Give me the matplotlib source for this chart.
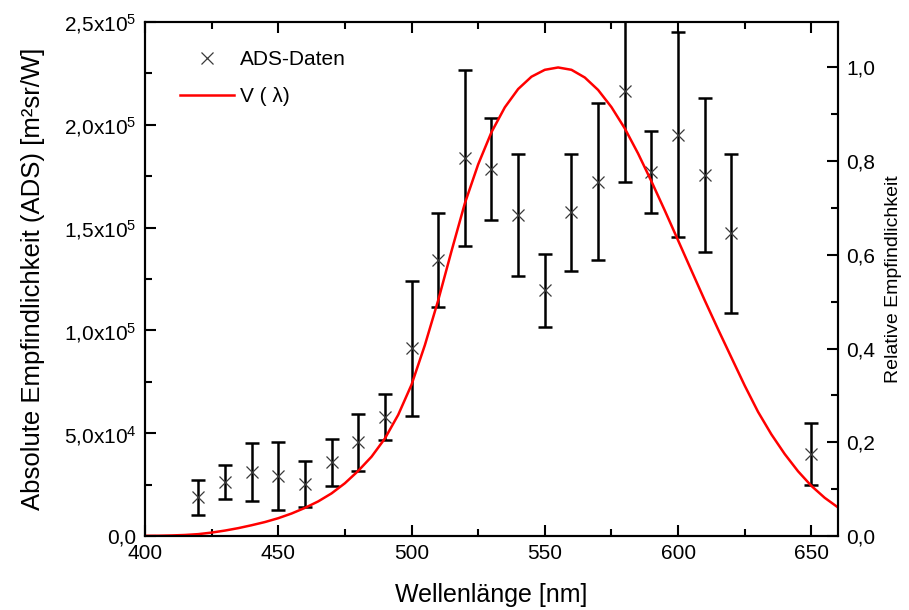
import numpy as np
import matplotlib.pyplot as plt
from matplotlib.ticker import MultipleLocator

plt.rcParams['font.family'] = ['Liberation Sans', 'DejaVu Sans']
plt.rcParams['mathtext.fontset'] = 'custom'
plt.rcParams['mathtext.rm'] = 'Liberation Sans'
plt.rcParams['mathtext.it'] = 'Liberation Sans'

# measured ADS data (wavelength in nm, value in m^2 sr/W, symmetric error)
wl = [420, 430, 440, 450, 460, 470, 480, 490, 500, 510, 520,
      530, 540, 550, 560, 570, 580, 590, 600, 610, 620, 650]
ads = [1.88e4, 2.61e4, 3.10e4, 2.93e4, 2.53e4, 3.58e4, 4.56e4, 5.80e4, 9.13e4, 1.342e5, 1.837e5,
       1.785e5, 1.561e5, 1.196e5, 1.574e5, 1.723e5, 2.166e5, 1.769e5, 1.952e5, 1.756e5, 1.472e5, 3.99e4]
ads_err = [0.86e4, 0.83e4, 1.41e4, 1.65e4, 1.11e4, 1.14e4, 1.39e4, 1.13e4, 3.28e4, 2.27e4, 4.28e4,
           2.47e4, 2.96e4, 1.78e4, 2.85e4, 3.81e4, 4.46e4, 2.00e4, 4.98e4, 3.75e4, 3.85e4, 1.51e4]

# V(lambda) curve, read at 5 nm steps
v_wl = [400, 405, 410, 415, 420, 425, 430, 435, 440, 445, 450, 455, 460, 465, 470, 475,
        480, 485, 490, 495, 500, 505, 510, 515, 520, 525, 530, 535, 540, 545, 550, 555,
        560, 565, 570, 575, 580, 585, 590, 595, 600, 605, 610, 615, 620, 625, 630, 635,
        640, 645, 650, 655, 660]
v_rel = [0.0004, 0.0006, 0.0012, 0.0022, 0.004, 0.0073, 0.0116, 0.0168, 0.023, 0.0298,
         0.038, 0.048, 0.060, 0.0739, 0.091, 0.1126, 0.139, 0.1693, 0.208, 0.2586, 0.323,
         0.4073, 0.503, 0.6082, 0.710, 0.7932, 0.862, 0.9149, 0.954, 0.9803, 0.995, 1.0,
         0.995, 0.9786, 0.952, 0.9154, 0.870, 0.8163, 0.757, 0.6949, 0.631, 0.5668, 0.503,
         0.4412, 0.381, 0.321, 0.265, 0.217, 0.175, 0.1382, 0.107, 0.0816, 0.061]

x_ticks = [400, 450, 500, 550, 600, 650]
y_ticks = [0, 5e4, 1e5, 1.5e5, 2e5, 2.5e5]
y_labels = ['0,0', '5,0x10$^4$', '1,0x10$^5$', '1,5x10$^5$', '2,0x10$^5$', '2,5x10$^5$']
r_ticks = [0, 0.2, 0.4, 0.6, 0.8, 1.0]
r_labels = ['0,0', '0,2', '0,4', '0,6', '0,8', '1,0']

fig = plt.figure(figsize=(9.09, 6.10), dpi=100)
ax = fig.add_axes([0.1595, 0.1213, 0.7624, 0.8426])
ax2 = ax.twinx()

ax.errorbar(wl, ads, yerr=ads_err, fmt='none', ecolor='black',
            elinewidth=1.8, capsize=5, capthick=1.8)
h1, = ax.plot(wl, ads, 'x', color='#3a3a3a', ms=9, mew=0.9, label='ADS-Daten')
h2, = ax2.plot(v_wl, v_rel, color='red', lw=1.8, solid_joinstyle='round', label='V ( λ)')

ax.set_xlim(400, 660)
ax.set_ylim(0, 2.5e5)
ax2.set_ylim(0, 1.097)

ax.set_xticks(x_ticks)
ax.set_xticklabels([str(t) for t in x_ticks])
ax.xaxis.set_minor_locator(MultipleLocator(25))
ax.set_yticks(y_ticks)
ax.set_yticklabels(y_labels)
ax.yaxis.set_minor_locator(MultipleLocator(2.5e4))
ax2.set_yticks(r_ticks)
ax2.set_yticklabels(r_labels)
ax2.yaxis.set_minor_locator(MultipleLocator(0.1))

ax.tick_params(which='both', direction='in', top=True, right=False, width=1.5, labelsize=15, pad=6)
ax.tick_params(which='major', length=8)
ax.tick_params(which='minor', length=5)
ax2.tick_params(which='both', direction='in', width=1.5, labelsize=15, pad=6)
ax2.tick_params(which='major', length=8)
ax2.tick_params(which='minor', length=5)
for a in (ax, ax2):
    for s in a.spines.values():
        s.set_linewidth(1.5)

ax.set_xlabel('Wellenlänge [nm]', fontsize=18, labelpad=14)
ax.set_ylabel('Absolute Empfindlichkeit (ADS) [m²sr/W]', fontsize=18.5, labelpad=14)
ax2.set_ylabel('Relative Empfindlichkeit', fontsize=14, labelpad=7)

ax2.legend([h1, h2], ['ADS-Daten', 'V ( λ)'], loc='upper left', bbox_to_anchor=(0.05, 0.945),
           frameon=False, fontsize=15, handlelength=2.6, handletextpad=0.3,
           labelspacing=0.85, borderpad=0, borderaxespad=0)

fig.savefig('out.png', dpi=100)
